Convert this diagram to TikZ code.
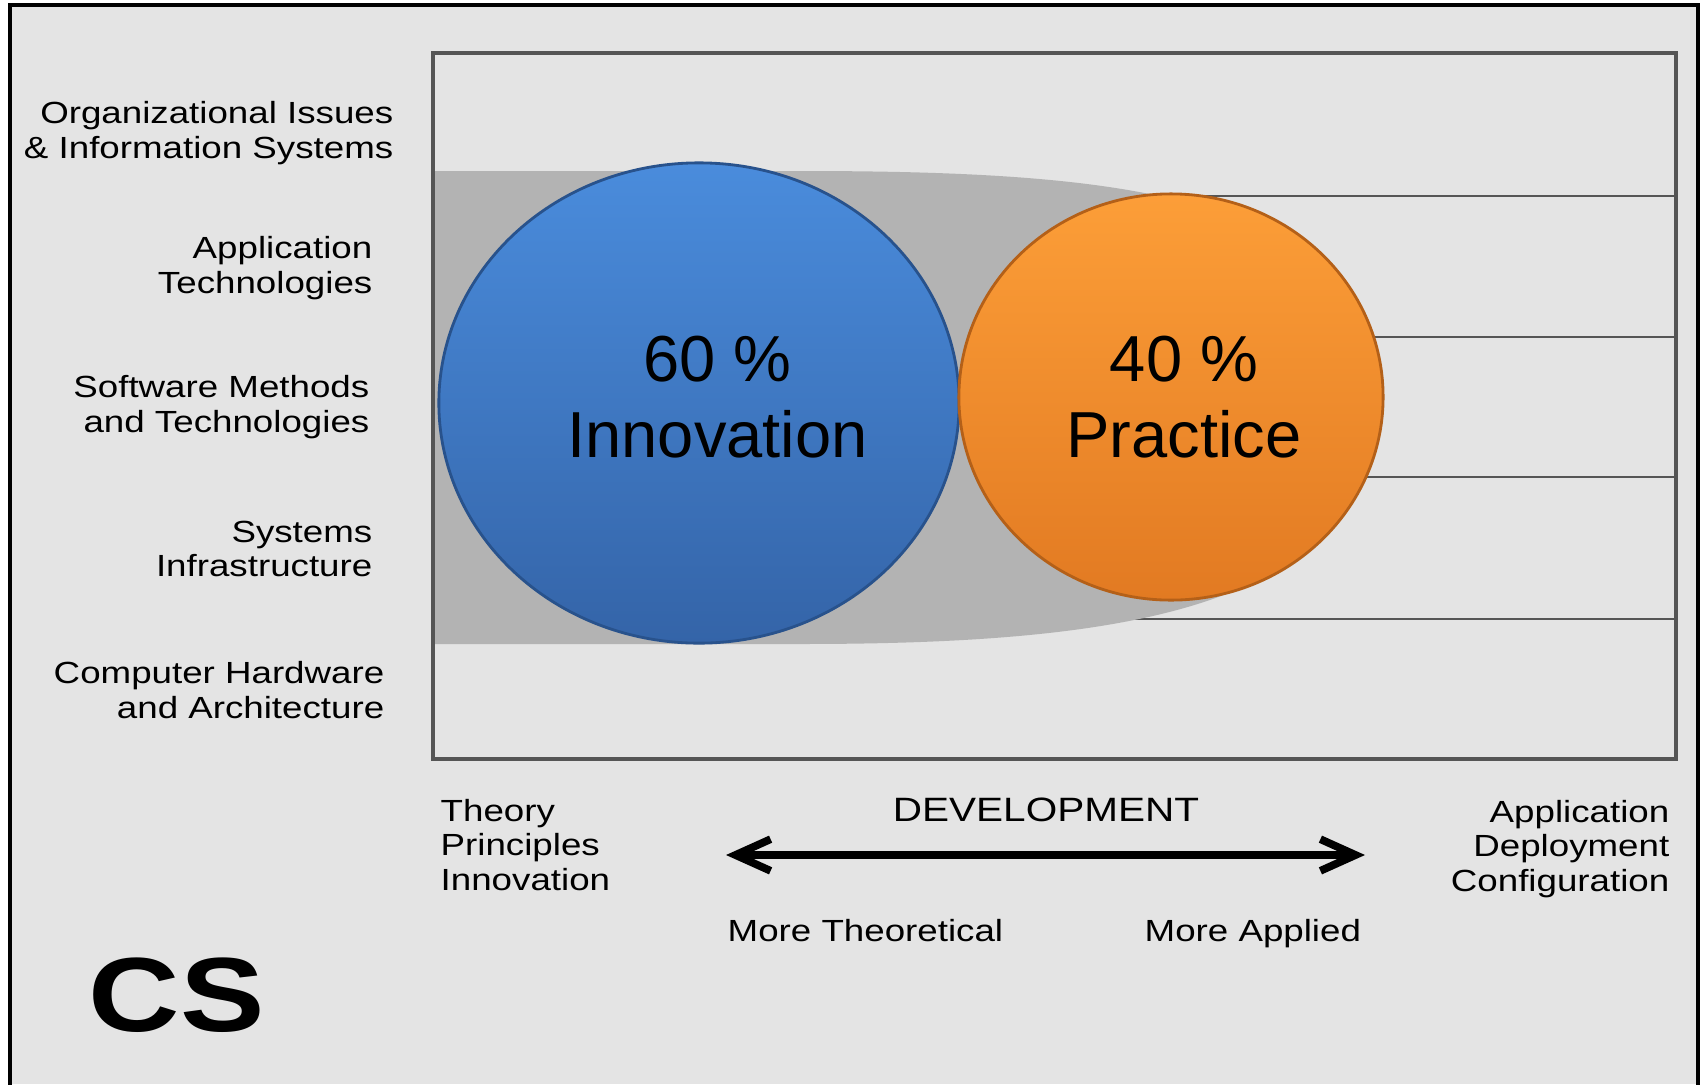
\documentclass[tikz,border=0pt]{standalone}
\usepackage{fontspec}
\setmainfont{Liberation Sans}
\newfontfamily\widefont[FakeStretch=1.2]{Liberation Sans}
\usepackage{tikz}
\usetikzlibrary{shapes.geometric, arrows.meta}
\definecolor{paper}{RGB}{228,228,228}
\definecolor{band}{RGB}{179,179,179}
\definecolor{rule}{RGB}{85,85,85}
\definecolor{bluetop}{RGB}{74,140,220}
\definecolor{bluebot}{RGB}{52,100,168}
\definecolor{blueedge}{RGB}{40,82,140}
\definecolor{orangetop}{RGB}{252,158,56}
\definecolor{orangebot}{RGB}{226,122,34}
\definecolor{orangeedge}{RGB}{180,96,24}
\newcommand*{\smalltext}{\widefont\fontsize{8.7}{9.8}\selectfont}

\begin{document}
\begin{tikzpicture}[x=0.01cm, y=-0.01cm, every node/.style={inner sep=0pt},
    share/.style={ellipse, draw, line width=0.8pt},
    bigtext/.style={align=center, font=\fontsize{18.5}{21.5}\selectfont}]
      \fill[white] (0,0) rectangle (1705,1084);
      \useasboundingbox (0,0) rectangle (1705,1084);
      \fill[paper] (10,5) rectangle (1698,1084);
      \draw[line width=1.4pt] (10,1100) -- (10,5) -- (1698,5) -- (1698,1100);

      \foreach \y in {196, 337, 477, 619}
      {
        \draw[rule, line width=0.6pt] (433,\y) -- (1676,\y);
      }

      \fill[band] (433,171) -- (800,171)
        .. controls (1150,171) and (1370,200) .. (1370,407)
        .. controls (1370,610) and (1120,644) .. (800,644)
        -- (433,644) -- cycle;
      \draw[rule, line width=0.9pt] (433,53) rectangle (1676,759);

      \node[share, top color=bluetop, bottom color=bluebot, draw=blueedge,
        minimum width=5.2cm, minimum height=4.8cm,
        label={[bigtext, xshift=0.185cm, yshift=0.06cm]center:{60 \%\\Innovation}}]
        (innov) at (699,403) {};
      \node[share, top color=orangetop, bottom color=orangebot, draw=orangeedge,
        minimum width=4.24cm, minimum height=4.06cm,
        label={[bigtext, xshift=0.13cm]center:{40 \%\\Practice}}]
        (pract) at (1171,397) {};

      {\tikzstyle{every node}=[font=\smalltext, align=right, anchor=east, inner sep=0pt]
        \foreach \txt/\xr/\y [count=\i] in
          {{Organizational Issues\\\& Information Systems}/394/133,
           {Application\\Technologies}/373/268,
           {Software Methods\\and Technologies}/370/407,
           {Systems\\Infrastructure}/373/549,
           {Computer Hardware\\and Architecture}/385/690}
        {
          \node (area\i) at (\xr,\y) {\txt};
        }
      }

      \node[font=\smalltext, align=left, anchor=west] (theory) at (440,845)
        {Theory\\Principles\\Innovation};
      \node[font=\smalltext, align=right, anchor=east] (deploy) at (1670,849)
        {Application\\Deployment\\Configuration};
      \node[font=\widefont\fontsize{9.6}{11}\selectfont] (dev) at (1046,810)
        {DEVELOPMENT};

      \coordinate (theo end) at (726,855);
      \coordinate (appl end) at (1365,855);
      \draw[{Straight Barb[length=10pt,width=9pt]}-{Straight Barb[length=10pt,width=9pt]},
        line width=2.2pt, line cap=round] (theo end) -- (appl end);

      \node[font=\smalltext, anchor=base west] (theo) at (727,941) {More Theoretical};
      \node[font=\smalltext, anchor=base west] (appl) at (1144,941) {More Applied};

      \node[font=\widefont\bfseries\fontsize{30}{30}\selectfont, anchor=west] (cs)
        at (88,995) {CS};
    \end{tikzpicture}
\end{document}
